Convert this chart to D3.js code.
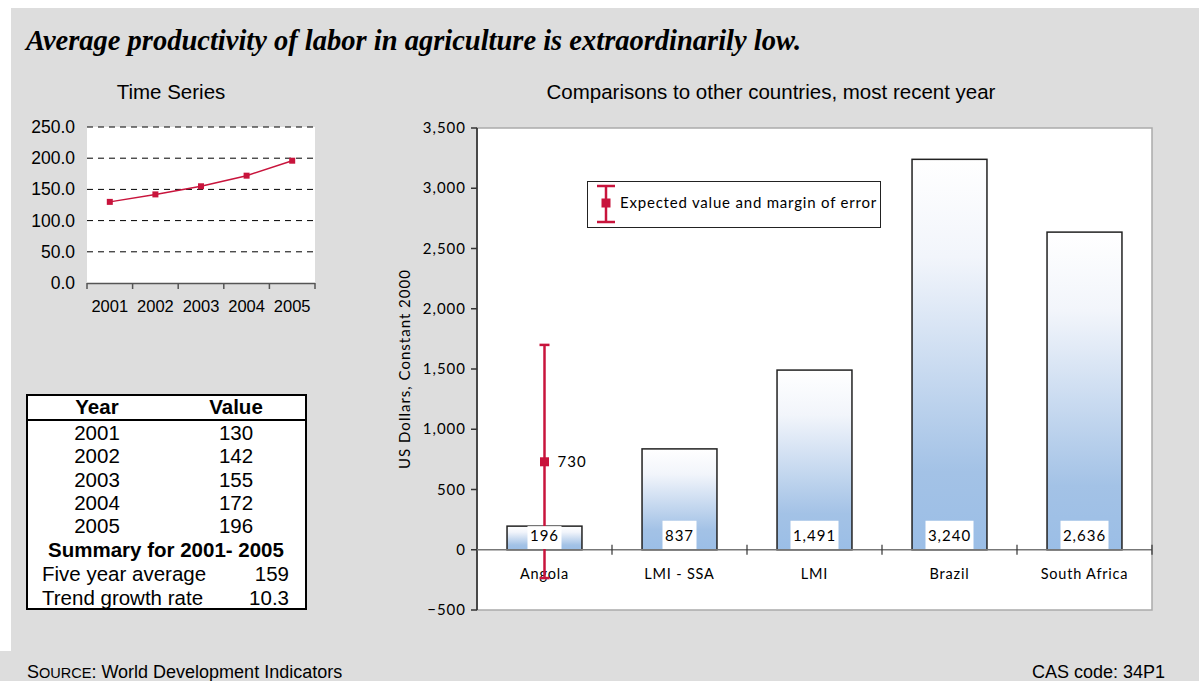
<!DOCTYPE html>
<html><head><meta charset="utf-8">
<script src="https://cdn.jsdelivr.net/npm/d3@7"></script>
<style>
body{margin:0;background:#fff;}
svg{display:block;}
</style></head>
<body>
<svg id="c" width="1199" height="681"></svg>
<script>
// ---- Data ----
const years = ["2001","2002","2003","2004","2005"];
const seriesValues = [130, 142, 155, 172, 196];
const leftTicks = [0, 50, 100, 150, 200, 250];
const tableSummary = [["Five year average","159"],["Trend growth rate","10.3"]];

const countries = ["Angola","LMI - SSA","LMI","Brazil","South Africa"];
const countryValues = [196, 837, 1491, 3240, 2636];
const expectedValue = 730;
const errorLow = -235;
const errorHigh = 1700;
const rightTicks = [-500, 0, 500, 1000, 1500, 2000, 2500, 3000, 3500];

const RED = "#c8143c";
const svg = d3.select("#c");
const AF = "Liberation Sans, Arial, sans-serif";

// background
svg.append("rect").attr("x",11).attr("y",8).attr("width",1188).attr("height",673).attr("fill","#dddddd");
svg.append("rect").attr("x",0).attr("y",651).attr("width",12).attr("height",30).attr("fill","#dddddd");

// title
svg.append("text").attr("x",26).attr("y",50)
  .attr("font-family","Liberation Serif, Times New Roman, serif")
  .attr("font-size",28.5).attr("font-weight","bold").attr("font-style","italic")
  .text("Average productivity of labor in agriculture is extraordinarily low.");

// ---- Left time series ----
svg.append("text").attr("x",171).attr("y",99).attr("text-anchor","middle")
  .attr("font-family",AF).attr("font-size",20.5).text("Time Series");

const lx = d3.scaleBand().domain(years).range([87,315]);
const ly = d3.scaleLinear().domain([0,250]).range([283,127]);
svg.append("rect").attr("x",87).attr("y",127).attr("width",228).attr("height",156).attr("fill","#fff");
const lg = svg.append("g");
lg.selectAll("line.grid").data(leftTicks.filter(d=>d>0)).join("line")
  .attr("x1",87).attr("x2",315).attr("y1",d=>ly(d)).attr("y2",d=>ly(d))
  .attr("stroke","#000").attr("stroke-width",1).attr("stroke-dasharray","6,5");
lg.selectAll("text.yt").data(leftTicks).join("text")
  .attr("x",75).attr("y",d=>ly(d)+6).attr("text-anchor","end")
  .attr("font-family",AF).attr("font-size",17.5)
  .text(d=>d3.format(".1f")(d));
// x axis
lg.append("line").attr("x1",87).attr("x2",315).attr("y1",283.5).attr("y2",283.5).attr("stroke","#555").attr("stroke-width",1.5);
const bounds = years.map(y=>lx(y)).concat([315]);
lg.selectAll("line.xt").data(bounds).join("line")
  .attr("x1",d=>d).attr("x2",d=>d).attr("y1",283).attr("y2",289).attr("stroke","#555").attr("stroke-width",1.5);
lg.selectAll("text.xl").data(years).join("text")
  .attr("x",d=>lx(d)+lx.bandwidth()/2).attr("y",312).attr("text-anchor","middle")
  .attr("font-family",AF).attr("font-size",16.5).text(d=>d);
const line = d3.line().x((d,i)=>lx(years[i])+lx.bandwidth()/2).y(d=>ly(d));
lg.append("path").datum(seriesValues).attr("d",line).attr("fill","none").attr("stroke",RED).attr("stroke-width",1.5);
lg.selectAll("rect.pt").data(seriesValues).join("rect")
  .attr("x",(d,i)=>lx(years[i])+lx.bandwidth()/2-3).attr("y",d=>ly(d)-3)
  .attr("width",6).attr("height",6).attr("fill",RED);

// ---- Table ----
const tg = svg.append("g").attr("font-family",AF).attr("font-size",20.5);
tg.append("rect").attr("x",27).attr("y",395).attr("width",279).attr("height",214).attr("fill","#fff").attr("stroke","#000").attr("stroke-width",2);
tg.append("line").attr("x1",27).attr("x2",306).attr("y1",420).attr("y2",420).attr("stroke","#000").attr("stroke-width",2);
tg.append("text").attr("x",97).attr("y",414).attr("text-anchor","middle").attr("font-weight","bold").text("Year");
tg.append("text").attr("x",236).attr("y",414).attr("text-anchor","middle").attr("font-weight","bold").text("Value");
years.forEach((y,i)=>{
  tg.append("text").attr("x",97).attr("y",440+i*23.3).attr("text-anchor","middle").text(y);
  tg.append("text").attr("x",236).attr("y",440+i*23.3).attr("text-anchor","middle").text(seriesValues[i]);
});
tg.append("text").attr("x",166).attr("y",557).attr("text-anchor","middle").attr("font-weight","bold").text("Summary for 2001- 2005");
tableSummary.forEach((r,i)=>{
  tg.append("text").attr("x",42).attr("y",581+i*24).text(r[0]);
  tg.append("text").attr("x",289).attr("y",581+i*24).attr("text-anchor","end").text(r[1]);
});

// ---- Right comparison chart ----
svg.append("text").attr("x",771).attr("y",99).attr("text-anchor","middle")
  .attr("font-family",AF).attr("font-size",20.5)
  .text("Comparisons to other countries, most recent year");

const X0=477, X1=1152, Y0=128, Y1=610;
const rx = d3.scaleBand().domain(countries).range([X0,X1]).paddingInner(0.445).paddingOuter(0.2225);
const rxb = d3.scaleBand().domain(countries).range([X0,X1]);
const ry = d3.scaleLinear().domain([-500,3500]).range([Y1,Y0]);
const GF = "Lato, 'Open Sans', sans-serif";

const defs = svg.append("defs");
const grad = defs.append("linearGradient").attr("id","bg").attr("x1",0).attr("y1",0).attr("x2",0).attr("y2",1);
grad.append("stop").attr("offset","0%").attr("stop-color","#ffffff");
grad.append("stop").attr("offset","25%").attr("stop-color","#f2f5fb");
grad.append("stop").attr("offset","80%").attr("stop-color","#a3c2e6");
grad.append("stop").attr("offset","100%").attr("stop-color","#9bbee6");

svg.append("rect").attr("x",X0).attr("y",Y0).attr("width",X1-X0).attr("height",Y1-Y0)
  .attr("fill","#fff").attr("stroke","#aaaaaa").attr("stroke-width",1.5);

const rg = svg.append("g");
// y axis
rg.append("line").attr("x1",X0).attr("x2",X0).attr("y1",Y0).attr("y2",Y1).attr("stroke","#222").attr("stroke-width",1.5);
rg.selectAll("line.yt").data(rightTicks).join("line")
  .attr("x1",X0-6).attr("x2",X0).attr("y1",d=>ry(d)).attr("y2",d=>ry(d)).attr("stroke","#333").attr("stroke-width",1.5);
rg.selectAll("text.yl").data(rightTicks).join("text")
  .attr("x",X0-11).attr("y",d=>ry(d)+5).attr("text-anchor","end")
  .attr("font-family",GF).attr("font-size",15).attr("letter-spacing",1)
  .text(d=>d3.format(",")(d));
rg.append("text").attr("transform",`translate(410,${(Y0+Y1)/2}) rotate(-90)`).attr("text-anchor","middle")
  .attr("font-family",GF).attr("font-size",15).attr("letter-spacing",1).text("US Dollars, Constant 2000");

// bars
rg.selectAll("rect.bar").data(countryValues).join("rect")
  .attr("x",(d,i)=>rx(countries[i])).attr("y",d=>ry(d)).attr("width",rx.bandwidth())
  .attr("height",d=>ry(0)-ry(d)).attr("fill","url(#bg)").attr("stroke","#222").attr("stroke-width",1.5);

// zero line + ticks
rg.append("line").attr("x1",X0).attr("x2",X1).attr("y1",ry(0)).attr("y2",ry(0)).attr("stroke","#777").attr("stroke-width",1.5);
const rb = countries.map(c=>rxb(c)).slice(1).concat([X1]);
rg.selectAll("line.xt").data(rb).join("line")
  .attr("x1",d=>d).attr("x2",d=>d).attr("y1",ry(0)-5).attr("y2",ry(0)+5).attr("stroke","#333").attr("stroke-width",1.2);

// category labels
rg.selectAll("text.cl").data(countries).join("text")
  .attr("x",d=>rxb(d)+rxb.bandwidth()/2).attr("y",ry(0)+29).attr("text-anchor","middle")
  .attr("font-family",GF).attr("font-size",14.5).attr("letter-spacing",0.8).text(d=>d);

// error bar (Angola)
const ex = rxb(countries[0])+rxb.bandwidth()/2;
rg.append("line").attr("x1",ex).attr("x2",ex).attr("y1",ry(errorHigh)).attr("y2",ry(errorLow)).attr("stroke",RED).attr("stroke-width",2.5);
[errorHigh,errorLow].forEach(v=>rg.append("line").attr("x1",ex-5).attr("x2",ex+5).attr("y1",ry(v)).attr("y2",ry(v)).attr("stroke",RED).attr("stroke-width",2.5));
rg.append("rect").attr("x",ex-4.5).attr("y",ry(expectedValue)-4.5).attr("width",9).attr("height",9).attr("fill",RED);
rg.append("text").attr("x",ex+13).attr("y",ry(expectedValue)+5).attr("font-family",GF).attr("font-size",15).attr("letter-spacing",1).text(expectedValue);

// value label boxes
countryValues.forEach((v,i)=>{
  const cx = rxb(countries[i])+rxb.bandwidth()/2;
  const txt = d3.format(",")(v);
  const w = txt.length>3 ? 48 : 34;
  const h = Math.min(29, ry(0)-ry(v));
  rg.append("rect").attr("x",cx-w/2).attr("y",ry(0)-h).attr("width",w).attr("height",h-0.75).attr("fill","#fff");
  rg.append("text").attr("x",cx).attr("y",ry(0)-9).attr("text-anchor","middle")
    .attr("font-family",GF).attr("font-size",15).attr("letter-spacing",1).text(txt);
});

// legend
const lgd = svg.append("g");
lgd.append("rect").attr("x",587.5).attr("y",181.5).attr("width",293).attr("height",46).attr("fill","#fff").attr("stroke","#222").attr("stroke-width",1);
lgd.append("line").attr("x1",606).attr("x2",606).attr("y1",186).attr("y2",222).attr("stroke",RED).attr("stroke-width",2.5);
[186,222].forEach(y=>lgd.append("line").attr("x1",597).attr("x2",615).attr("y1",y).attr("y2",y).attr("stroke",RED).attr("stroke-width",2.5));
lgd.append("rect").attr("x",601.5).attr("y",198.5).attr("width",9).attr("height",9).attr("fill",RED);
lgd.append("text").attr("x",620).attr("y",208).attr("font-family",GF).attr("font-size",15).attr("letter-spacing",0.8)
  .text("Expected value and margin of error");

// footer
const ft = svg.append("text").attr("x",27).attr("y",678).attr("font-family",AF).attr("font-size",18);
ft.append("tspan").text("S");
ft.append("tspan").attr("font-size",14.5).text("OURCE");
ft.append("tspan").text(": World Development Indicators");
svg.append("text").attr("x",1165).attr("y",678).attr("text-anchor","end").attr("font-family",AF).attr("font-size",18).text("CAS code: 34P1");
</script>
</body></html>
